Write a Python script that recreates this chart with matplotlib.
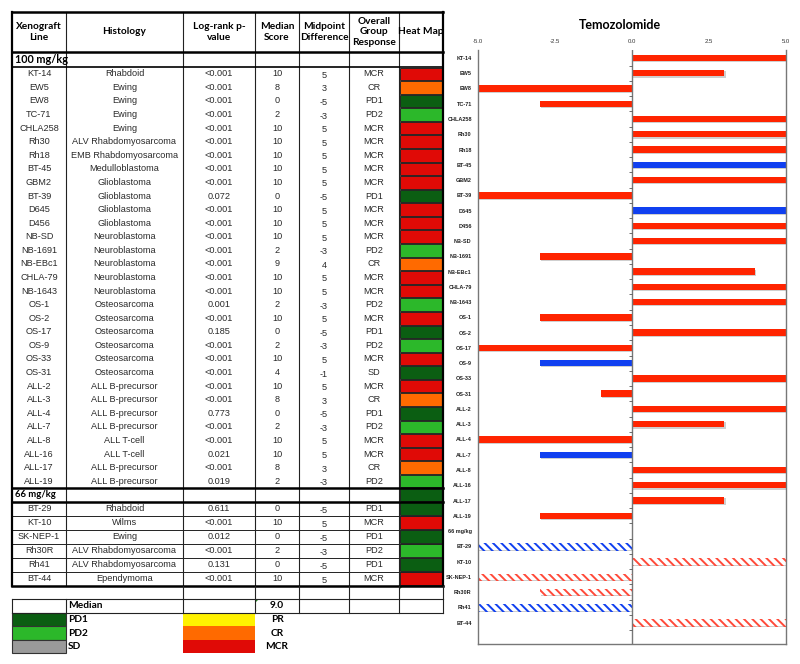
import numpy as np
import matplotlib.pyplot as plt
from matplotlib.patches import Rectangle, Polygon
import matplotlib.patheffects as pe

plt.rcParams['hatch.linewidth'] = 1.4

# table data (100 mg/kg group first 31 rows, then 66 mg/kg group)
xeno = ['KT-14', 'EW5', 'EW8', 'TC-71', 'CHLA258', 'Rh30', 'Rh18', 'BT-45', 'GBM2', 'BT-39',
        'D645', 'D456', 'NB-SD', 'NB-1691', 'NB-EBc1', 'CHLA-79', 'NB-1643', 'OS-1', 'OS-2',
        'OS-17', 'OS-9', 'OS-33', 'OS-31', 'ALL-2', 'ALL-3', 'ALL-4', 'ALL-7', 'ALL-8',
        'ALL-16', 'ALL-17', 'ALL-19',
        'BT-29', 'KT-10', 'SK-NEP-1', 'Rh30R', 'Rh41', 'BT-44']
histology = ['Rhabdoid', 'Ewing', 'Ewing', 'Ewing', 'Ewing', 'ALV Rhabdomyosarcoma',
             'EMB Rhabdomyosarcoma', 'Medulloblastoma', 'Glioblastoma', 'Glioblastoma',
             'Glioblastoma', 'Glioblastoma', 'Neuroblastoma', 'Neuroblastoma', 'Neuroblastoma',
             'Neuroblastoma', 'Neuroblastoma', 'Osteosarcoma', 'Osteosarcoma', 'Osteosarcoma',
             'Osteosarcoma', 'Osteosarcoma', 'Osteosarcoma', 'ALL B-precursor', 'ALL B-precursor',
             'ALL B-precursor', 'ALL B-precursor', 'ALL T-cell', 'ALL T-cell', 'ALL B-precursor',
             'ALL B-precursor',
             'Rhabdoid', 'Wilms', 'Ewing', 'ALV Rhabdomyosarcoma', 'ALV Rhabdomyosarcoma', 'Ependymoma']
pval = ['<0.001', '<0.001', '<0.001', '<0.001', '<0.001', '<0.001', '<0.001', '<0.001', '<0.001',
        '0.072', '<0.001', '<0.001', '<0.001', '<0.001', '<0.001', '<0.001', '<0.001', '0.001',
        '<0.001', '0.185', '<0.001', '<0.001', '<0.001', '<0.001', '<0.001', '0.773', '<0.001',
        '<0.001', '0.021', '<0.001', '0.019',
        '0.611', '<0.001', '0.012', '<0.001', '0.131', '<0.001']
median = [10, 8, 0, 2, 10, 10, 10, 10, 10, 0, 10, 10, 10, 2, 9, 10, 10, 2, 10, 0, 2, 10, 4, 10, 8,
          0, 2, 10, 10, 8, 2,
          0, 10, 0, 2, 0, 10]
midpoint = [5, 3, -5, -3, 5, 5, 5, 5, 5, -5, 5, 5, 5, -3, 4, 5, 5, -3, 5, -5, -3, 5, -1, 5, 3,
            -5, -3, 5, 5, 3, -3,
            -5, 5, -5, -3, -5, 5]
response = ['MCR', 'CR', 'PD1', 'PD2', 'MCR', 'MCR', 'MCR', 'MCR', 'MCR', 'PD1', 'MCR', 'MCR',
            'MCR', 'PD2', 'CR', 'MCR', 'MCR', 'PD2', 'MCR', 'PD1', 'PD2', 'MCR', 'SD', 'MCR', 'CR',
            'PD1', 'PD2', 'MCR', 'MCR', 'CR', 'PD2',
            'PD1', 'MCR', 'PD1', 'PD2', 'PD1', 'MCR']
n_100 = 31
median_all = '9.0'
headers = ['Xenograft\nLine', 'Histology', 'Log-rank p-\nvalue', 'Median\nScore',
           'Midpoint\nDifference', 'Overall\nGroup\nResponse', 'Heat Map']
blue_lines = ['BT-45', 'D645', 'OS-9', 'ALL-7', 'BT-29', 'Rh41']

DKG = '#0b5e12'
LTG = '#2cb82a'
RED = '#e00a06'
ORG = '#ff6a00'
YEL = '#fff200'
GRY = '#9a9a9a'
heat = {'MCR': RED, 'CR': ORG, 'PR': YEL, 'PD1': DKG, 'PD2': LTG, 'SD': DKG}

SANS = ['Liberation Sans', 'DejaVu Sans']

fig = plt.figure(figsize=(8, 6.64), dpi=100)

# ---------------- table ----------------
tb = fig.add_axes([0, 0, 1, 1])
tb.set_xlim(0, 800)
tb.set_ylim(664, 0)
tb.axis('off')

cx = [12, 66, 183, 255, 299, 349, 399, 443]
mid = [(cx[i] + cx[i + 1]) / 2 for i in range(7)]
y_top, y_hdr, y_s1 = 12, 52, 67
rh = 13.58
y_s2 = y_s1 + n_100 * rh
y_g2 = y_s2 + 14
rh2 = 14.0
y_end = y_g2 + (len(xeno) - n_100) * rh2
y_med = y_end + 13
y_leg = y_med + 14

hfont = dict(family='Lato', fontweight='bold', color='black')
bfont = dict(family=SANS, fontsize=6.6, color='#2a2a2a')

for i, h in enumerate(headers):
    tb.text(mid[i], (y_top + y_hdr) / 2, h, ha='center', va='center', fontsize=7.3,
            linespacing=1.15, **hfont)
tb.text(cx[0] + 3, (y_hdr + y_s1) / 2, '100 mg/kg', ha='left', va='center', fontsize=7.8, **hfont)
tb.text(cx[0] + 3, (y_s2 + y_g2) / 2, '66 mg/kg', ha='left', va='center', fontsize=6.8, **hfont)

for i in range(len(xeno)):
    if i < n_100:
        y0 = y_s1 + i * rh
        h = rh
    else:
        y0 = y_g2 + (i - n_100) * rh2
        h = rh2
    yc = y0 + h / 2
    tb.text(mid[0], yc, xeno[i], ha='center', va='center', **bfont)
    tb.text(mid[1], yc, histology[i], ha='center', va='center', **bfont)
    tb.text(mid[2], yc, pval[i], ha='center', va='center', **bfont)
    tb.text(mid[3], yc, str(median[i]), ha='center', va='center', **bfont)
    tb.text(mid[4], yc + 1.5, str(midpoint[i]), ha='center', va='center', **bfont)
    tb.text(mid[5], yc, response[i], ha='center', va='center', **bfont)
    tb.add_patch(Rectangle((cx[6] + 1, y0 + 0.5), cx[7] - cx[6] - 2, h - 1,
                           facecolor=heat[response[i]], edgecolor='#111111', lw=0.6))
    if i >= n_100:
        tb.plot([cx[0], cx[7]], [y0 + h, y0 + h], color='#222222', lw=0.7)

# heat cell on the 66 mg/kg row
tb.add_patch(Rectangle((cx[6] + 1, y_s2 + 0.5), cx[7] - cx[6] - 2, y_g2 - y_s2 - 1,
                       facecolor=DKG, edgecolor='#111111', lw=0.6))

# vertical lines
for x in cx[1:-1]:
    tb.plot([x, x], [y_top, y_end], color='#222222', lw=0.8)
for x in [cx[0], cx[7]]:
    tb.plot([x, x], [y_top, y_end], color='black', lw=1.6)
# thick horizontal lines
for y in [y_top, y_hdr, y_s2, y_g2, y_end]:
    tb.plot([cx[0], cx[7]], [y, y], color='black', lw=1.8)
tb.plot([cx[0], cx[7]], [y_s1, y_s1], color='black', lw=1.2)

# blank row and median row
for x in cx[2:]:
    tb.plot([x, x], [y_end, y_med], color='#222222', lw=0.8)
for x in cx:
    tb.plot([x, x], [y_med, y_leg], color='#222222', lw=0.8)
tb.plot([cx[0], cx[7]], [y_med, y_med], color='#222222', lw=0.8)
tb.plot([cx[0], cx[7]], [y_leg, y_leg], color='#222222', lw=0.8)
tb.text(cx[1] + 2, (y_med + y_leg) / 2, 'Median', ha='left', va='center', fontsize=7.3, **hfont)
tb.text(mid[3], (y_med + y_leg) / 2, median_all, ha='center', va='center', fontsize=7.3, **hfont)
for (x, y) in [(cx[3], y_med), (cx[6], y_end)]:
    tb.add_patch(Polygon([(x, y), (x + 4, y), (x, y + 4)], color='#2a8a2a', lw=0))

# legend
leg_left = [('PD1', DKG), ('PD2', LTG), ('SD', GRY)]
leg_right = [('PR', YEL), ('CR', ORG), ('MCR', RED)]
lh = 13.5
for k in range(3):
    y0 = y_leg + k * lh
    tb.add_patch(Rectangle((cx[0], y0), cx[1] - cx[0], lh, facecolor=leg_left[k][1],
                           edgecolor='#333333', lw=0.8))
    tb.text(cx[1] + 2, y0 + lh / 2, leg_left[k][0], ha='left', va='center', fontsize=7.3, **hfont)
    tb.add_patch(Rectangle((cx[2], y0), cx[3] - cx[2], lh, facecolor=leg_right[k][1],
                           edgecolor='none', lw=0))
    tb.text(mid[3], y0 + lh / 2, leg_right[k][0], ha='center', va='center', fontsize=7.3, **hfont)

# ---------------- bar chart ----------------
labels = xeno[:n_100] + ['66 mg/kg'] + xeno[n_100:]
vals = midpoint[:n_100] + [np.nan] + midpoint[n_100:]
pos = np.arange(len(labels))

ax = fig.add_axes([478 / 800, 20 / 664, 308 / 800, 594 / 664])
shadow = [pe.SimplePatchShadow(offset=(0.8, -0.8), shadow_rgbFace='#888888', alpha=0.4), pe.Normal()]
for i, (lab, v) in enumerate(zip(labels, vals)):
    if np.isnan(v):
        continue
    if i > n_100:
        c = '#1040f0' if lab in blue_lines else '#ff4a3a'
        b = ax.barh(pos[i], v, height=0.42, color='white', edgecolor=c,
                    hatch='\\\\\\\\', linewidth=0)
    else:
        c = '#1040f0' if lab in blue_lines else '#ff2400'
        b = ax.barh(pos[i], v, height=0.42, color=c, linewidth=0)
    for p in b:
        p.set_path_effects(shadow)

ax.axvline(0, color='#777777', lw=1.0)
ax.plot(np.zeros(len(labels)), pos + 0.5, linestyle='none', marker=0, markersize=2,
        color='#555555', markeredgewidth=0.6)
ax.set_xlim(-5, 5)
ax.set_ylim(38.4, -0.52)
ax.xaxis.tick_top()
ax.set_xticks([-5, -2.5, 0, 2.5, 5])
ax.set_xticklabels(['%.1f' % t for t in [-5, -2.5, 0, 2.5, 5]], fontsize=4.3, color='#333333',
                   family=SANS)
ax.set_yticks(pos)
ax.set_yticklabels(labels, fontsize=4.0, fontweight='bold', color='#222222', family=SANS)
ax.tick_params(axis='both', length=0)
ax.tick_params(axis='x', pad=4)
ax.tick_params(axis='y', pad=4.5)
ax.spines['top'].set_visible(False)
for s in ['left', 'right', 'bottom']:
    ax.spines[s].set_color('#777777')
    ax.spines[s].set_linewidth(1.0)

fig.text(620 / 800, 1 - 25 / 664, 'Temozolomide', ha='center', va='center', fontsize=9,
         family='Lato', fontweight='bold')

fig.savefig('out.png', dpi=100)
